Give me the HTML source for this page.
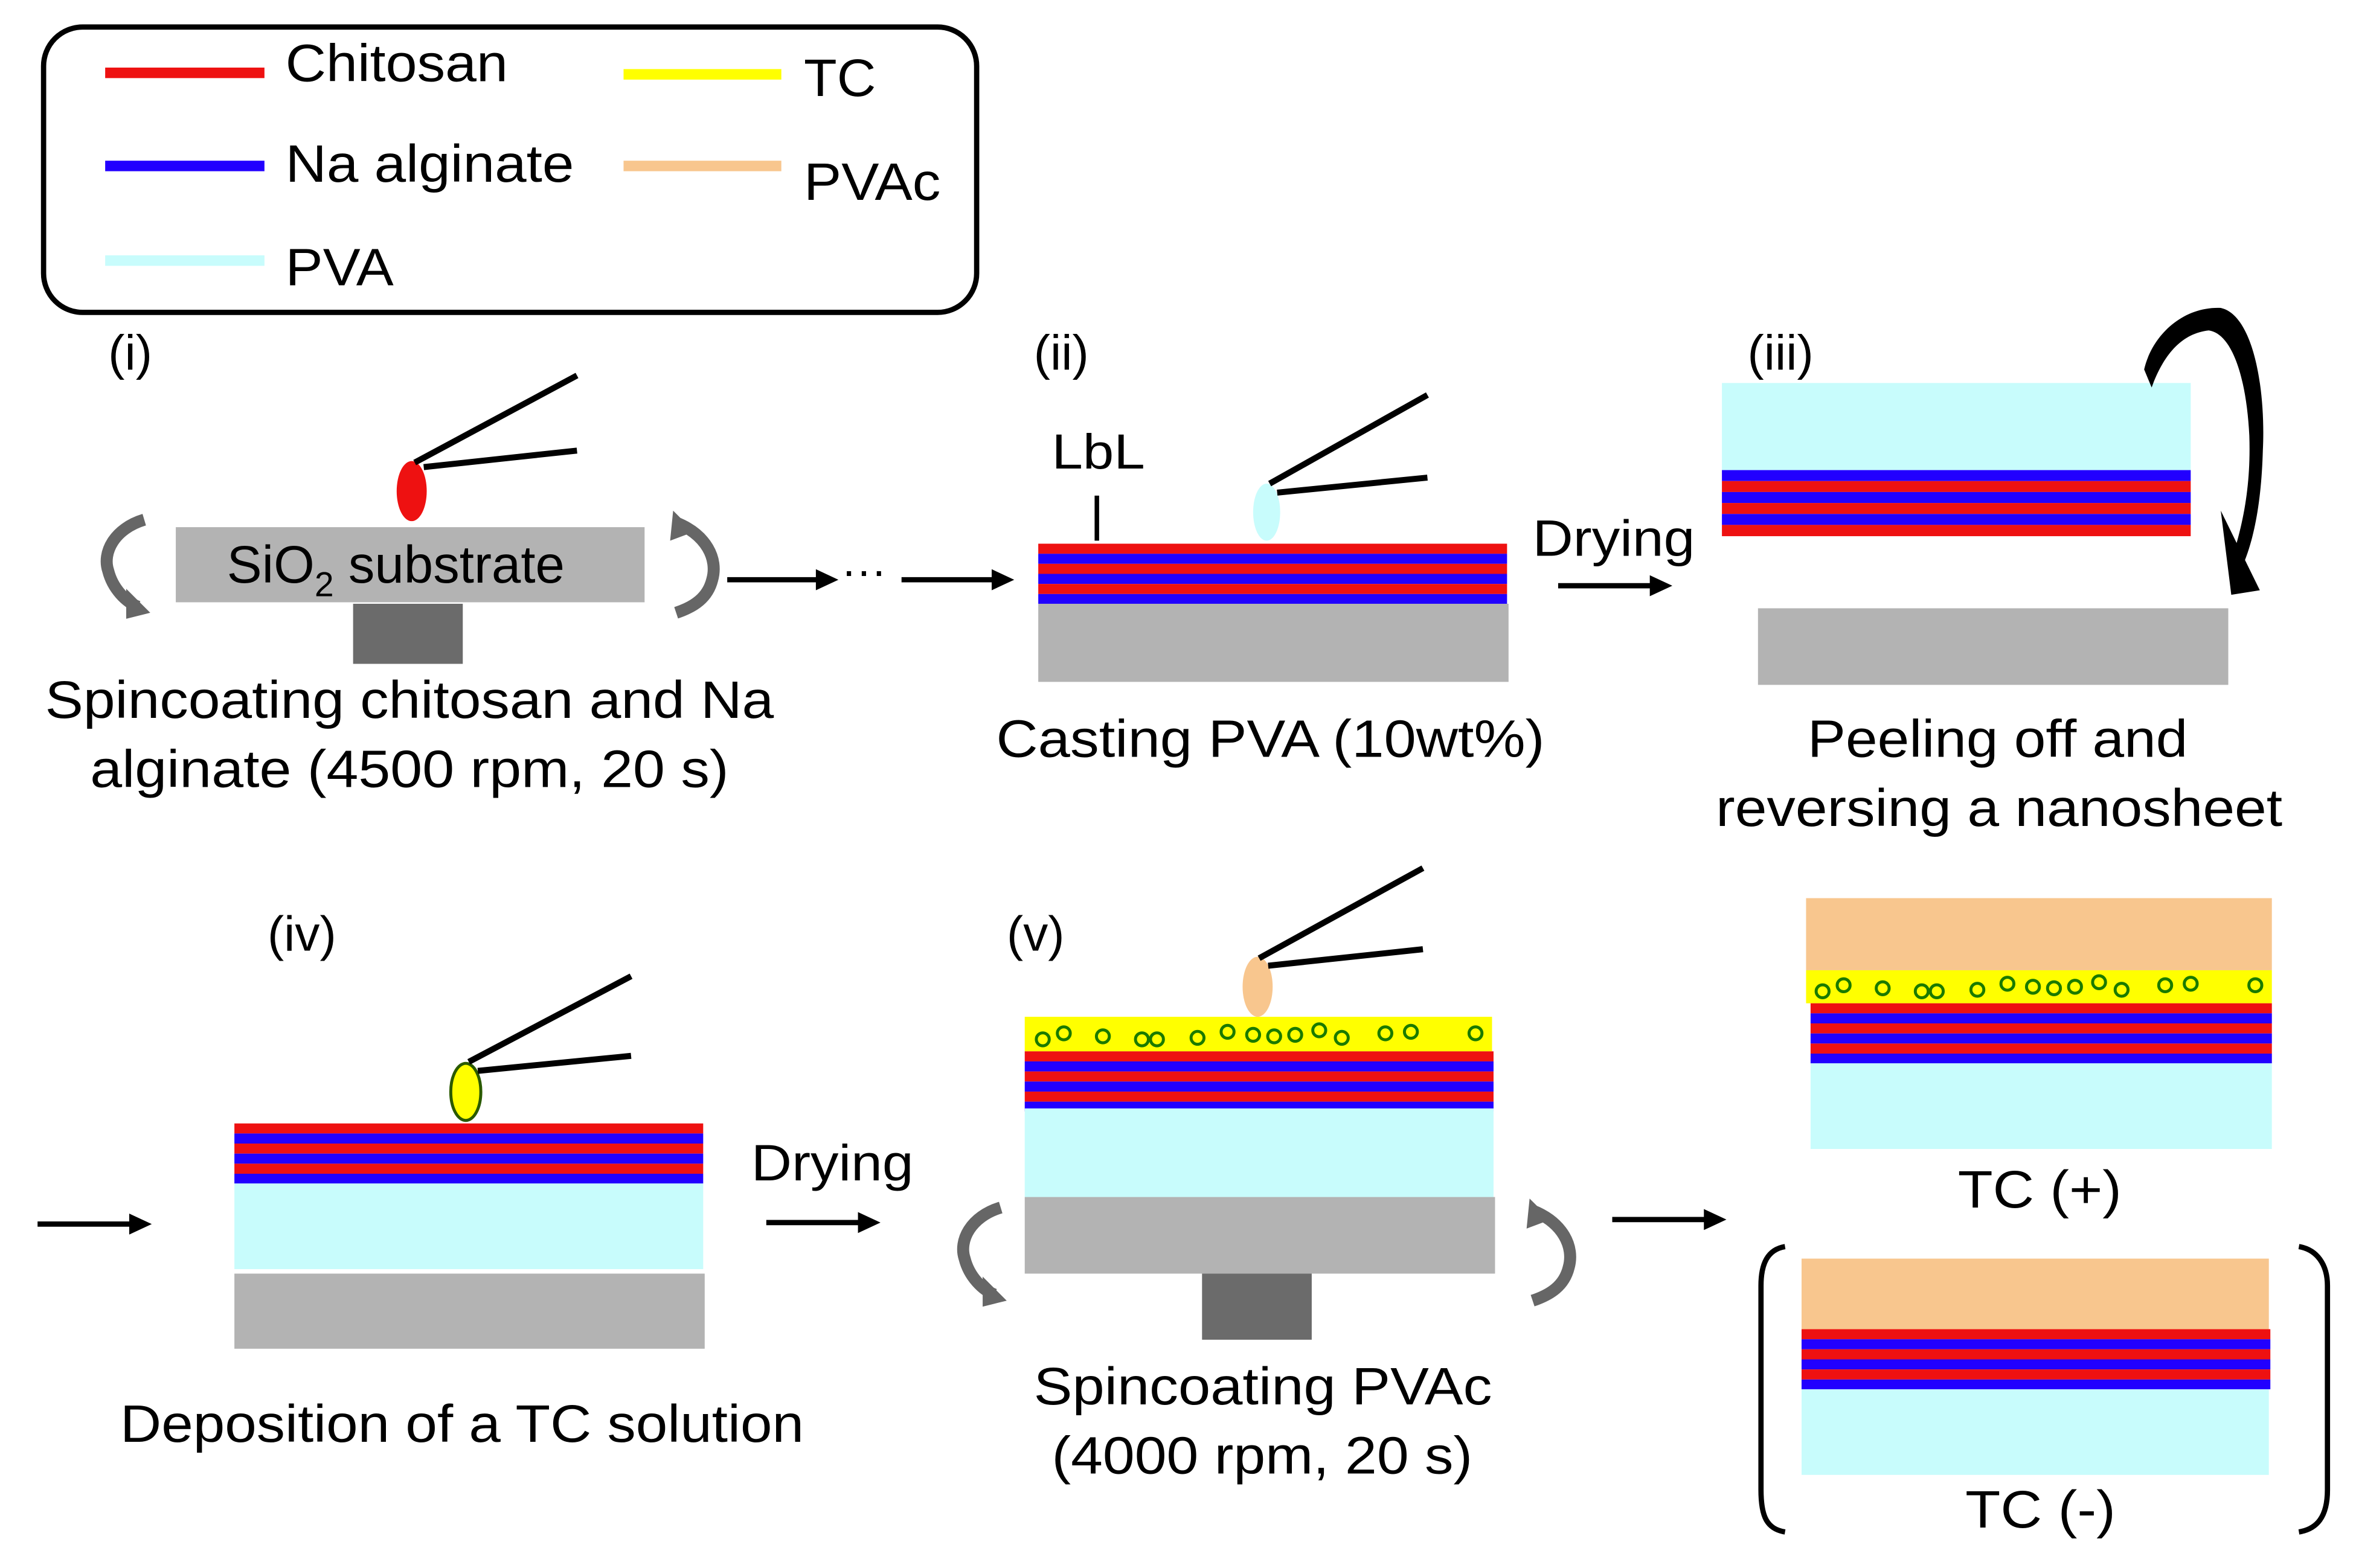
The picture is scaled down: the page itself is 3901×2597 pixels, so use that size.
<!DOCTYPE html>
<html><head><meta charset="utf-8"><style>html,body{margin:0;padding:0;background:#fff}svg{display:block}text{font-family:"Liberation Sans",Arial,sans-serif;fill:#000}</style></head>
<body>
<svg width="3901" height="2597" viewBox="0 0 1568 1044" preserveAspectRatio="none" xmlns="http://www.w3.org/2000/svg">
<defs>
<g id="stack">
<rect x="0" y="0" width="312" height="6.7" fill="#ee1111"/>
<rect x="0" y="6.7" width="312" height="6.7" fill="#2200ff"/>
<rect x="0" y="13.4" width="312" height="6.7" fill="#ee1111"/>
<rect x="0" y="20.1" width="312" height="6.7" fill="#2200ff"/>
<rect x="0" y="26.8" width="312" height="6.7" fill="#ee1111"/>
<rect x="0" y="33.5" width="312" height="6.5" fill="#2200ff"/>
</g>
<g id="stackR">
<rect x="0" y="0" width="312" height="7.3" fill="#2200ff"/>
<rect x="0" y="7.3" width="312" height="7.3" fill="#ee1111"/>
<rect x="0" y="14.6" width="312" height="7.3" fill="#2200ff"/>
<rect x="0" y="21.9" width="312" height="7.3" fill="#ee1111"/>
<rect x="0" y="29.2" width="312" height="7.3" fill="#2200ff"/>
<rect x="0" y="36.5" width="312" height="7.5" fill="#ee1111"/>
</g>
<g id="rotL">
<path d="M26,0 C6,6 -2,22 2,34 C5,46 14,55 22,58" fill="none" stroke="#666" stroke-width="8"/>
<polygon points="14,46 30,62 14,66" fill="#666"/>
</g>
<g id="rotR">
<path d="M4,-2 C24,6 32,22 28,36 C25,48 16,54 4,58" fill="none" stroke="#666" stroke-width="8"/>
<polygon points="2,-10 16,4 0,10" fill="#666"/>
</g>
<g id="circ" fill="none" stroke="#1a7a00" stroke-width="2">
<circle cx="12" cy="9" r="4.3"/><circle cx="26" cy="5" r="4.3"/><circle cx="52" cy="7" r="4.3"/>
<circle cx="78" cy="9" r="4.3"/><circle cx="88" cy="9" r="4.3"/><circle cx="115" cy="8" r="4.3"/>
<circle cx="135" cy="4" r="4.3"/><circle cx="152" cy="6" r="4.3"/><circle cx="166" cy="7" r="4.3"/>
<circle cx="180" cy="6" r="4.3"/><circle cx="196" cy="3" r="4.3"/><circle cx="211" cy="8" r="4.3"/>
<circle cx="240" cy="5" r="4.3"/><circle cx="257" cy="4" r="4.3"/><circle cx="300" cy="5" r="4.3"/>
</g>
</defs>

<!-- legend -->
<rect x="29" y="18" width="621" height="190" rx="26" ry="26" fill="none" stroke="#000" stroke-width="3.5"/>
<rect x="70" y="45" width="106" height="7" fill="#ee1111"/>
<rect x="70" y="107" width="106" height="7" fill="#2200ff"/>
<rect x="70" y="170" width="106" height="7" fill="#c8fcfc"/>
<rect x="415" y="46" width="105" height="7" fill="#ffff00"/>
<rect x="415" y="107" width="105" height="7" fill="#f8c68e"/>
<text x="190" y="54" font-size="35" textLength="148" lengthAdjust="spacingAndGlyphs">Chitosan</text>
<text x="190" y="121" font-size="35" textLength="192" lengthAdjust="spacingAndGlyphs">Na alginate</text>
<text x="190" y="190" font-size="35" textLength="72" lengthAdjust="spacingAndGlyphs">PVA</text>
<text x="535" y="64" font-size="35" textLength="48" lengthAdjust="spacingAndGlyphs">TC</text>
<text x="535" y="133" font-size="35" textLength="91" lengthAdjust="spacingAndGlyphs">PVAc</text>

<!-- (i) -->
<text x="72" y="246" font-size="33">(i)</text>
<rect x="117" y="351" width="312" height="50" fill="#b3b3b3"/>
<rect x="235" y="402" width="73" height="40" fill="#6b6b6b"/>
<text x="151" y="388" font-size="35">SiO<tspan font-size="23" dy="9">2</tspan><tspan dy="-9"> substrate</tspan></text>
<ellipse cx="274" cy="327" rx="10" ry="20" fill="#ee1111"/>
<line x1="276" y1="308" x2="384" y2="250" stroke="#000" stroke-width="4"/>
<line x1="282" y1="311" x2="384" y2="300" stroke="#000" stroke-width="4"/>
<use href="#rotL" x="70" y="346"/>
<use href="#rotR" x="446" y="350"/>
<text x="30" y="478" font-size="35" textLength="485" lengthAdjust="spacingAndGlyphs">Spincoating chitosan and Na</text>
<text x="60" y="524" font-size="35" textLength="425" lengthAdjust="spacingAndGlyphs">alginate (4500 rpm, 20 s)</text>
<line x1="484" y1="386" x2="545" y2="386" stroke="#000" stroke-width="3.5"/>
<polygon points="543,379 558,386 543,393" fill="#000"/>
<text x="560" y="390" font-size="30">···</text>
<line x1="600" y1="386" x2="662" y2="386" stroke="#000" stroke-width="3.5"/>
<polygon points="660,379 675,386 660,393" fill="#000"/>

<!-- (ii) -->
<text x="688" y="246" font-size="33">(ii)</text>
<text x="700" y="312" font-size="33" textLength="62" lengthAdjust="spacingAndGlyphs">LbL</text>
<line x1="730" y1="330" x2="730" y2="360" stroke="#000" stroke-width="3"/>
<use href="#stack" x="691" y="362"/>
<rect x="691" y="402" width="313" height="52" fill="#b3b3b3"/>
<ellipse cx="843" cy="341" rx="9" ry="19" fill="#c8fcfc"/>
<line x1="845" y1="322" x2="950" y2="263" stroke="#000" stroke-width="4"/>
<line x1="850" y1="328" x2="950" y2="318" stroke="#000" stroke-width="4"/>
<text x="663" y="504" font-size="35" textLength="365" lengthAdjust="spacingAndGlyphs">Casting PVA (10wt%)</text>
<text x="1020" y="370" font-size="34" textLength="108" lengthAdjust="spacingAndGlyphs">Drying</text>
<line x1="1037" y1="390" x2="1100" y2="390" stroke="#000" stroke-width="3.5"/>
<polygon points="1098,383 1113,390 1098,397" fill="#000"/>

<!-- (iii) -->
<text x="1163" y="246" font-size="33">(iii)</text>
<rect x="1146" y="255" width="312" height="58" fill="#c8fcfc"/>
<use href="#stackR" x="1146" y="313"/>
<rect x="1170" y="405" width="313" height="51" fill="#b3b3b3"/>
<path d="M1427,246 C1432,224 1452,204 1478,205 C1500,210 1508,260 1506,300 C1505,335 1500,360 1492,378 L1486,370 C1494,345 1498,320 1497,290 C1495,250 1485,222 1470,220 C1452,222 1440,236 1432,258 Z" fill="#000"/>
<polygon points="1478,340 1485,396 1504,393" fill="#000"/>
<text x="1203" y="504" font-size="35" textLength="253" lengthAdjust="spacingAndGlyphs">Peeling off and</text>
<text x="1142" y="550" font-size="35" textLength="377" lengthAdjust="spacingAndGlyphs">reversing a nanosheet</text>

<!-- (iv) -->
<text x="178" y="633" font-size="33">(iv)</text>
<line x1="25" y1="815" x2="88" y2="815" stroke="#000" stroke-width="3.5"/>
<polygon points="86,808 101,815 86,822" fill="#000"/>
<use href="#stack" x="156" y="748"/>
<rect x="156" y="788" width="312" height="57" fill="#c8fcfc"/>
<rect x="156" y="848" width="313" height="50" fill="#b3b3b3"/>
<ellipse cx="310" cy="727" rx="10" ry="19" fill="#ffff00" stroke="#2a5a00" stroke-width="2"/>
<line x1="312" y1="707" x2="420" y2="650" stroke="#000" stroke-width="4"/>
<line x1="318" y1="713" x2="420" y2="703" stroke="#000" stroke-width="4"/>
<text x="80" y="960" font-size="35" textLength="455" lengthAdjust="spacingAndGlyphs">Deposition of a TC solution</text>
<text x="500" y="786" font-size="34" textLength="108" lengthAdjust="spacingAndGlyphs">Drying</text>
<line x1="510" y1="814" x2="573" y2="814" stroke="#000" stroke-width="3.5"/>
<polygon points="571,807 586,814 571,821" fill="#000"/>

<!-- (v) -->
<text x="670" y="633" font-size="33">(v)</text>
<rect x="682" y="677" width="311" height="23" fill="#ffff00"/>
<use href="#circ" x="682" y="683"/>
<use href="#stack" x="682" y="700"/>
<rect x="682" y="738" width="312" height="59" fill="#c8fcfc"/>
<rect x="682" y="797" width="313" height="51" fill="#b3b3b3"/>
<rect x="800" y="848" width="73" height="44" fill="#6b6b6b"/>
<ellipse cx="837" cy="657" rx="10" ry="20" fill="#f8c68e"/>
<line x1="838" y1="638" x2="947" y2="578" stroke="#000" stroke-width="4"/>
<line x1="844" y1="643" x2="947" y2="632" stroke="#000" stroke-width="4"/>
<use href="#rotL" x="640" y="804"/>
<use href="#rotR" x="1016" y="808"/>
<text x="688" y="935" font-size="35" textLength="305" lengthAdjust="spacingAndGlyphs">Spincoating PVAc</text>
<text x="700" y="981" font-size="35" textLength="280" lengthAdjust="spacingAndGlyphs">(4000 rpm, 20 s)</text>
<line x1="1073" y1="812" x2="1136" y2="812" stroke="#000" stroke-width="3.5"/>
<polygon points="1134,805 1149,812 1134,819" fill="#000"/>

<!-- TC(+) -->
<rect x="1202" y="598" width="310" height="48" fill="#f8c68e"/>
<rect x="1202" y="646" width="310" height="22" fill="#ffff00"/>
<use href="#circ" x="1201" y="651"/>
<g transform="translate(1205,668) scale(0.984,1)"><use href="#stack"/></g>
<rect x="1205" y="708" width="307" height="57" fill="#c8fcfc"/>
<text x="1303" y="804" font-size="35" textLength="109" lengthAdjust="spacingAndGlyphs">TC (+)</text>

<!-- TC(-) -->
<rect x="1199" y="838" width="311" height="47" fill="#f8c68e"/>
<use href="#stack" x="1199" y="885"/>
<rect x="1199" y="925" width="311" height="57" fill="#c8fcfc"/>
<text x="1308" y="1017" font-size="35" textLength="100" lengthAdjust="spacingAndGlyphs">TC (-)</text>
<path d="M1188,830 C1176,832 1172,842 1172,856 L1172,992 C1172,1010 1176,1018 1188,1020" fill="none" stroke="#000" stroke-width="3.5"/>
<path d="M1530,830 C1542,832 1549,842 1549,856 L1549,992 C1549,1010 1542,1018 1530,1020" fill="none" stroke="#000" stroke-width="3.5"/>
</svg>
</body></html>
